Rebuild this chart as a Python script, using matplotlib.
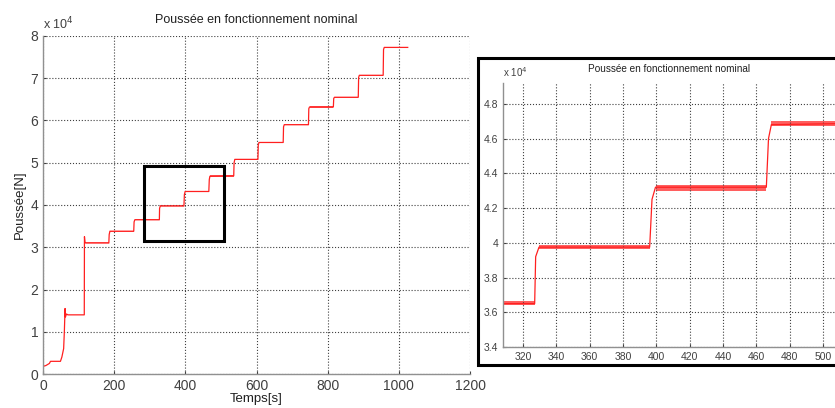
import matplotlib
matplotlib.use('Agg')
import matplotlib.pyplot as plt
from matplotlib.patches import Rectangle

plt.rcParams['font.family'] = ['Liberation Sans', 'DejaVu Sans']

# thrust curve, values in units of 1e4 N
temps = [0, 8, 18, 21, 49, 53, 58, 60, 62, 63, 66, 70,
         116, 116.5, 118, 120, 185, 186, 188, 255, 256, 258,
         327, 327.6, 329.6, 396, 397.4, 399.5, 466, 467.3, 469,
         536, 537, 539, 604, 605, 607, 675, 676, 678, 746, 747, 749,
         816, 817, 819, 886, 887, 889, 956, 957, 959, 1025]
poussee = [0.18, 0.2, 0.25, 0.3, 0.3, 0.4, 0.6, 1.0, 1.55, 1.35, 1.42, 1.4,
           1.4, 3.25, 3.12, 3.1, 3.1, 3.3, 3.38, 3.38, 3.6, 3.65,
           3.65, 3.92, 3.975, 3.975, 4.25, 4.32, 4.32, 4.6, 4.68,
           4.69, 5.0, 5.08, 5.08, 5.42, 5.48, 5.48, 5.85, 5.9, 5.9, 6.28, 6.32,
           6.32, 6.52, 6.55, 6.55, 7.02, 7.07, 7.07, 7.68, 7.73, 7.73]

# ripple band on each plateau (start, end, low, high)
plateau_start = [120, 188, 258, 329.6, 399.5, 469, 539, 607, 678, 749, 819, 889, 959]
plateau_end = [185, 255, 327, 396, 466, 536, 604, 675, 746, 816, 886, 956, 1025]
plateau_low = [3.09, 3.365, 3.64, 3.965, 4.30, 4.67, 5.065, 5.465, 5.885, 6.305, 6.535, 7.055, 7.715]
plateau_high = [3.115, 3.39, 3.665, 3.99, 4.335, 4.70, 5.095, 5.495, 5.915, 6.335, 6.565, 7.085, 7.745]

# zoom window shown in the inset
zoom_t = [285, 509]
zoom_p = [3.15, 4.92]

titre = 'Poussée en fonctionnement nominal'
grey = '#404040'


def draw_curve(ax):
    ax.plot(temps, poussee, color='#ff2020', lw=0.9)
    for t0, t1, lo, hi in zip(plateau_start, plateau_end, plateau_low, plateau_high):
        ax.fill_between([t0, t1], [lo, lo], [hi, hi], color='#ff2a2a', lw=0, alpha=0.75)


def style_axes(ax, size):
    ax.grid(True, linestyle=':', color='#404040', lw=0.8)
    ax.tick_params(direction='in', length=2.5, labelsize=size, colors=grey)
    for s in ['top', 'right']:
        ax.spines[s].set_visible(False)
    for s in ['left', 'bottom']:
        ax.spines[s].set_color('#909090')
        ax.spines[s].set_linewidth(1.0)


fig = plt.figure(figsize=(8.35, 4.08), dpi=100)

# main plot
ax = fig.add_axes([43 / 835, 1 - 374 / 408, 427 / 835, 338 / 408])
draw_curve(ax)
ax.set_xlim(0, 1200)
ax.set_ylim(0, 8)
ax.set_xticks(range(0, 1201, 200))
ax.set_yticks(range(0, 9))
style_axes(ax, 10)
ax.set_title(titre, fontsize=9, color='#202020', pad=9)
ax.set_xlabel('Temps[s]', fontsize=9.5, color='#202020', labelpad=0)
ax.set_ylabel('Poussée[N]', fontsize=9.5, color='#202020', labelpad=3)
ax.text(0, 1.012, 'x 10$^4$', transform=ax.transAxes, fontsize=9, color=grey,
        ha='left', va='bottom')
ax.add_patch(Rectangle((zoom_t[0], zoom_p[0]), zoom_t[1] - zoom_t[0], zoom_p[1] - zoom_p[0],
                       fill=False, ec='black', lw=2.2, zorder=5))

# frame around the inset
fig.patches.append(Rectangle((478 / 835, 1 - 365 / 408), 380 / 835, 307 / 408,
                             transform=fig.transFigure, fc='white', ec='black',
                             lw=2.2, zorder=0))

# inset
axi = fig.add_axes([503 / 835, 1 - 347 / 408, 332 / 835, 264 / 408])
axi.set_zorder(2)
draw_curve(axi)
axi.set_xlim(308, 507.2)
axi.set_ylim(3.4, 4.92)
axi.set_xticks(range(320, 501, 20))
axi.set_yticks([3.4, 3.6, 3.8, 4.0, 4.2, 4.4, 4.6, 4.8])
axi.set_yticklabels(['3.4', '3.6', '3.8', '4', '4.2', '4.4', '4.6', '4.8'])
style_axes(axi, 7.5)
axi.set_title(titre, fontsize=7.2, color='#202020', pad=8)
axi.text(0, 1.015, 'x 10$^4$', transform=axi.transAxes, fontsize=7, color=grey,
         ha='left', va='bottom')

fig.savefig('out.png', dpi=100)
